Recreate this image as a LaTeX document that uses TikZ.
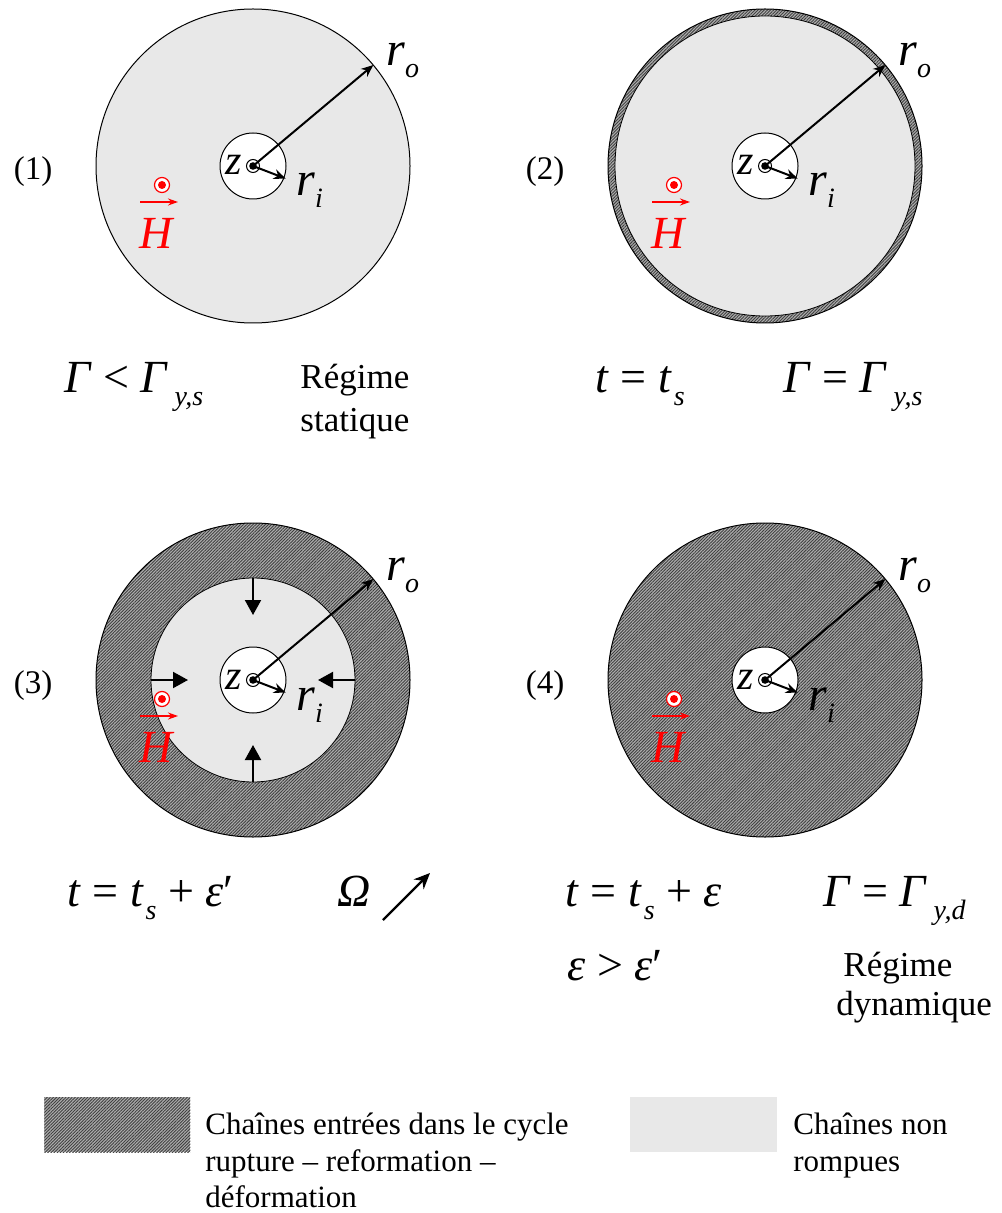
\documentclass[tikz,border=0pt]{standalone}
\usepackage{fontspec}
\setmainfont{Liberation Serif}
\usetikzlibrary{arrows.meta,patterns.meta}
\definecolor{clair}{RGB}{232,232,232}
\newcommand{\fsz}[1]{\fontsize{#1}{#1}\selectfont}
\newcommand{\sbs}[2][3pt]{\kern#1\raisebox{-6.5pt}{\fsz{14}\textit{#2}}}
\newcommand{\ind}[1]{\raisebox{-6pt}{\fsz{14}\textit{#1}}}

\begin{document}
\begin{tikzpicture}[x=0.5pt, y=-0.5pt,
    mth/.style={font=\fsz{23}, inner sep=0, anchor=base west},
    txt/.style={font=\fsz{17.5}, inner sep=0, anchor=base west},
    leg/.style={font=\fsz{15.5}, inner sep=0, anchor=base west},
    lab/.style={font=\fsz{24}, inner sep=0, anchor=base west},
    num/.style={font=\fsz{16.5}, inner sep=0},
    hatch/.style={fill=black!32, postaction={pattern={Lines[angle=45,distance=1.1pt,line width=0.45pt]}, pattern color=black!75}},
    rayon/.style={line width=1pt, -{Stealth[length=6pt,width=5pt]}},
    pousse/.style={line width=1pt, -{Triangle[length=7.5pt,width=8pt]}},
    champ/.style={red, line width=0.7pt, -{Stealth[length=5pt,width=3.5pt]}},
    >=Stealth]

    \useasboundingbox (0,0) rectangle (1001,1213);

    % centres des quatre etats
    \foreach \n/\cx/\cy in {1/253/166, 2/765/166, 3/253/680, 4/765/680}
        \coordinate (c\n) at (\cx,\cy);

    % zones rompues / non rompues
    \fill[clair] (c1) circle (157);
    \fill[hatch] (c2) circle (157);
    \draw[fill=clair, line width=0.4pt] (c2) circle (150);
    \fill[hatch] (c3) circle (157);
    \draw[fill=clair, line width=0.4pt] (c3) circle (102);
    \fill[hatch] (c4) circle (157);

    \foreach \n in {1,...,4} {
        \draw[line width=0.5pt] (c\n) circle (157);
        \node[circle, draw, fill=white, line width=0.5pt, minimum size=33pt, inner sep=0] (in\n) at (c\n) {};
        \node[circle, draw, fill=white, line width=0.5pt, minimum size=6.5pt, inner sep=0] (o\n) at (c\n) {};
        \path (c\n) ++(-40:157) coordinate (ro\n);
        \path (c\n) ++(21:35) coordinate (ri\n);
        \draw[rayon] (c\n) -- (ro\n);
        \draw[rayon] (c\n) -- (ri\n);
        \fill (c\n) circle (3.8);
        \path (c\n) ++(-28,9) node[lab, font=\fsz{21}] (z\n) {\textit{z}};
        \path (c\n) ++(133,-100) node[lab] (rolab\n) {\textit{r}\ind{o}};
        \path (c\n) ++(43,30) node[lab] (rilab\n) {\textit{r}\ind{i}};
        % champ magnetique
        \path (c\n) ++(-113,36) coordinate (ha\n) ++(38,0) coordinate (hb\n);
        \draw[champ] (ha\n) -- (hb\n);
        \path (c\n) ++(-91,19) node[circle, draw=red, fill=white, line width=0.6pt, minimum size=7.5pt, inner sep=0] (hp\n) {};
        \fill[red] (hp\n) circle (4);
        \path (c\n) ++(-96,67) node[font=\fsz{23}, text=red, inner sep=0] (h\n) {\textit{H}};
        \path (c\n) ++(-220,6) node[num] (num\n) {(\n)};
    }

    % front de rupture qui avance
    \foreach \a in {0,90,180,270} {
        \path (c3) ++(\a:102) coordinate (p\a) ++(\a:-37) coordinate (q\a);
        \draw[pousse] (p\a) -- (q\a);
    }

    % conditions
    \node[mth] (cond1) at (64,393) {\textit{Γ} < \textit{Γ}\sbs{y,s}};
    \node[txt] (reg1) at (300,388) {Régime};
    \node[txt] (stat) at (300,431) {statique};
    \node[mth] (cond2a) at (595,393) {\textit{t} = \textit{t}\sbs[1pt]{s}};
    \node[mth] (cond2b) at (783,393) {\textit{Γ} = \textit{Γ}\sbs{y,s}};
    \node[mth] (cond3) at (67,906) {\textit{t} = \textit{t}\sbs[1pt]{s} + \textit{ε}′};
    \node[mth] (omega) at (337,906) {\textit{Ω}};
    \coordinate (om1) at (383,920);
    \coordinate (om2) at (430,873);
    \draw[line width=1.2pt, -{Stealth[length=8pt,width=7pt]}] (om1) -- (om2);
    \node[mth] (cond4a) at (565,906) {\textit{t} = \textit{t}\sbs[1pt]{s} + \textit{ε}};
    \node[mth] (cond4b) at (823,906) {\textit{Γ} = \textit{Γ}\sbs{y,d}};
    \node[mth] (cond4c) at (567,980) {\textit{ε} > \textit{ε}′};
    \node[txt] (reg2) at (843,976) {Régime};
    \node[txt] (dyn) at (836,1015) {dynamique};

    % legende
    \node[hatch, minimum width=73pt, minimum height=27.5pt, inner sep=0, anchor=north west] (legd) at (44,1097) {};
    \node[fill=clair, minimum width=73.5pt, minimum height=27.5pt, inner sep=0, anchor=north west] (legc) at (630,1097) {};
    \node[leg] (l1) at (205,1134) {Chaînes entrées dans le cycle};
    \node[leg] (l2) at (205,1171) {rupture – reformation –};
    \node[leg] (l3) at (205,1207) {déformation};
    \node[leg] (l4) at (793,1134) {Chaînes non};
    \node[leg] (l5) at (793,1171) {rompues};
\end{tikzpicture}
\end{document}
